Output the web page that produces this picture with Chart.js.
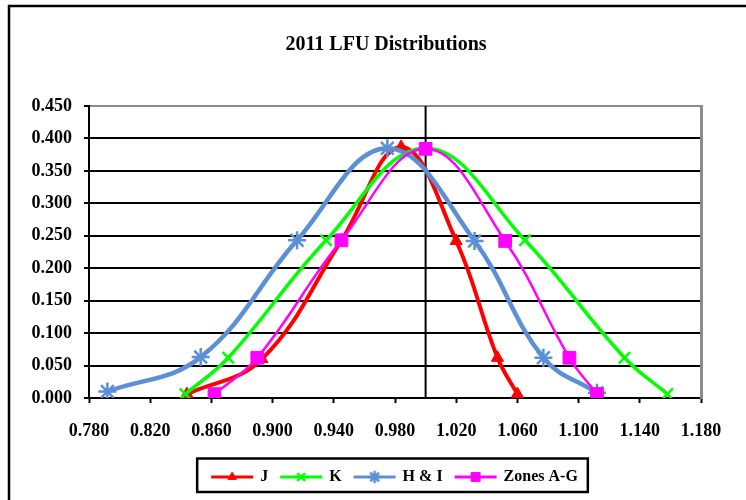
<!DOCTYPE html>
<html>
<head>
<meta charset="utf-8">
<script src="https://cdn.jsdelivr.net/npm/chart.js@4/dist/chart.umd.min.js"></script>
<style>
  html, body { margin: 0; padding: 0; background: #fff; }
  #wrap { position: relative; width: 746px; height: 500px; overflow: hidden; }
</style>
</head>
<body>
<div id="wrap"><canvas id="lfuChart" width="746" height="500"></canvas></div>
<script>
// 読み取った値 (x, y)
const jX  = [0.844, 0.893, 0.945, 0.984, 1.020, 1.047, 1.060];
const jY  = [0.006, 0.060, 0.243, 0.387, 0.242, 0.062, 0.006];
const kX  = [0.843, 0.871, 0.935, 1.000, 1.065, 1.130, 1.158];
const kY  = [0.006, 0.062, 0.243, 0.385, 0.243, 0.062, 0.006];
const hiX = [0.792, 0.853, 0.916, 0.975, 1.032, 1.077, 1.112];
const hiY = [0.010, 0.063, 0.243, 0.385, 0.242, 0.062, 0.008];
const zX  = [0.862, 0.890, 0.945, 1.000, 1.052, 1.094, 1.112];
const zY  = [0.006, 0.062, 0.243, 0.384, 0.242, 0.062, 0.006];

const refLineX = 1.0;
const xTicks = [0.78, 0.82, 0.86, 0.90, 0.94, 0.98, 1.02, 1.06, 1.10, 1.14, 1.18];
const yTicks = [0, 0.05, 0.10, 0.15, 0.20, 0.25, 0.30, 0.35, 0.40, 0.45];

const serif = "'Liberation Serif', 'Times New Roman', serif";

function pairs(xs, ys) {
    return xs.map((x, i) => ({ x: x, y: ys[i] }));
}

// 凡例用の「線＋マーカー」画像
function legendImage(color, lineW, style, radius, markW) {
    const c = document.createElement('canvas');
    c.width = 44;
    c.height = 16;
    const g = c.getContext('2d');
    g.strokeStyle = color;
    g.fillStyle = color;
    g.lineWidth = lineW;
    g.beginPath();
    g.moveTo(1, 8);
    g.lineTo(43, 8);
    g.stroke();
    if (Chart.helpers && Chart.helpers.drawPoint) {
        g.lineWidth = markW;
        Chart.helpers.drawPoint(g, { pointStyle: style, radius: radius, rotation: 0, borderWidth: markW }, 22, 8);
    }
    return c;
}

const series = [
    { label: 'J', xs: jX, ys: jY, color: '#ff0000', width: 4, style: 'triangle', r: 7, mw: 1, order: 4 },
    { label: 'K', xs: kX, ys: kY, color: '#00ff00', width: 3.5, style: 'crossRot', r: 8, mw: 2.5, order: 3 },
    { label: 'H & I', xs: hiX, ys: hiY, color: '#5b8fd6', width: 4.5, style: 'star', r: 9, mw: 2.5, order: 2 },
    { label: 'Zones A-G', xs: zX, ys: zY, color: '#ff00ff', width: 2.5, style: 'rect', r: 9, mw: 1, order: 1 }
];

const datasets = series.map(s => ({
    label: s.label,
    data: pairs(s.xs, s.ys),
    showLine: true,
    borderColor: s.color,
    backgroundColor: s.color,
    borderWidth: s.width,
    tension: 0.4,
    pointStyle: s.style,
    pointRadius: s.r,
    pointBorderWidth: s.mw,
    pointBorderColor: s.color,
    pointBackgroundColor: s.color,
    order: s.order
}));

datasets.push({
    label: 'ref',
    data: [{ x: refLineX, y: yTicks[0] }, { x: refLineX, y: yTicks[yTicks.length - 1] }],
    showLine: true,
    borderColor: '#000',
    borderWidth: 2,
    pointRadius: 0,
    order: 10
});

const legendImages = series.map(s =>
    legendImage(s.color, 3, s.style, s.r * 0.7, s.mw));

const framePlugin = {
    id: 'frame',
    beforeDraw(chart) {
        const c = chart.ctx;
        c.save();
        c.strokeStyle = '#000';
        c.lineWidth = 2.5;
        c.strokeRect(9, 6, 800, 600);
        c.restore();
    },
    afterDraw(chart) {
        const boxes = chart.legend.legendHitBoxes;
        if (!boxes || !boxes.length) return;
        const first = boxes[0];
        const last = boxes[boxes.length - 1];
        const c = chart.ctx;
        c.save();
        c.strokeStyle = '#000';
        c.lineWidth = 2.5;
        const left = first.left - 15;
        const right = last.left + last.width + 10;
        const top = first.top - 10.5;
        c.strokeRect(left, top, right - left, 33.5);
        c.restore();
    }
};

new Chart(document.getElementById('lfuChart').getContext('2d'), {
    type: 'scatter',
    data: { datasets: datasets },
    plugins: [framePlugin],
    options: {
        responsive: false,
        animation: false,
        events: [],
        layout: { padding: { left: 26, right: 0, top: 0, bottom: 5 } },
        plugins: {
            tooltip: { enabled: false },
            title: {
                display: true,
                text: '2011 LFU Distributions',
                color: '#000',
                font: { family: serif, size: 20, weight: 'bold' },
                padding: { top: 33, bottom: 49 }
            },
            legend: {
                position: 'bottom',
                fullSize: false,
                labels: {
                    color: '#000',
                    font: { family: serif, size: 16, weight: 'bold' },
                    usePointStyle: true,
                    pointStyleWidth: 40,
                    padding: 13,
                    filter: item => item.datasetIndex < series.length,
                    sort: (a, b) => a.datasetIndex - b.datasetIndex,
                    generateLabels(chart) {
                        const items = Chart.defaults.plugins.legend.labels.generateLabels(chart);
                        items.forEach(it => {
                            if (it.datasetIndex < series.length) {
                                it.pointStyle = legendImages[it.datasetIndex];
                            }
                        });
                        return items;
                    }
                }
            }
        },
        scales: {
            x: {
                type: 'linear',
                min: xTicks[0],
                max: xTicks[xTicks.length - 1],
                afterBuildTicks: scale => { scale.ticks = xTicks.map(v => ({ value: v })); },
                afterFit: scale => { scale.height = 58; },
                grid: {
                    display: true,
                    drawOnChartArea: false,
                    drawTicks: true,
                    tickLength: 5,
                    tickColor: '#000',
                    tickWidth: 2
                },
                border: { display: true, color: '#000', width: 2 },
                ticks: {
                    color: '#000',
                    padding: 18,
                    maxRotation: 0,
                    font: { family: serif, size: 18, weight: 'bold' },
                    callback: v => Number(v).toFixed(3)
                }
            },
            y: {
                type: 'linear',
                position: 'left',
                min: yTicks[0],
                max: yTicks[yTicks.length - 1],
                afterBuildTicks: scale => { scale.ticks = yTicks.map(v => ({ value: v })); },
                afterFit: scale => { scale.width = 63; },
                grid: {
                    color: ctx => (ctx.tick && ctx.tick.value === yTicks[yTicks.length - 1]) ? '#8c8c8c' : '#000',
                    lineWidth: 2,
                    drawTicks: true,
                    tickLength: 5,
                    tickColor: '#000',
                    tickWidth: 2
                },
                border: { display: true, color: '#000', width: 2 },
                ticks: {
                    color: '#000',
                    padding: 12,
                    font: { family: serif, size: 18, weight: 'bold' },
                    callback: v => Number(v).toFixed(3)
                }
            },
            yR: {
                type: 'linear',
                position: 'right',
                min: yTicks[0],
                max: yTicks[yTicks.length - 1],
                afterFit: scale => { scale.width = 45; },
                grid: { display: false },
                ticks: { display: false },
                border: { display: true, color: '#8c8c8c', width: 3 }
            }
        }
    }
});
</script>
</body>
</html>
